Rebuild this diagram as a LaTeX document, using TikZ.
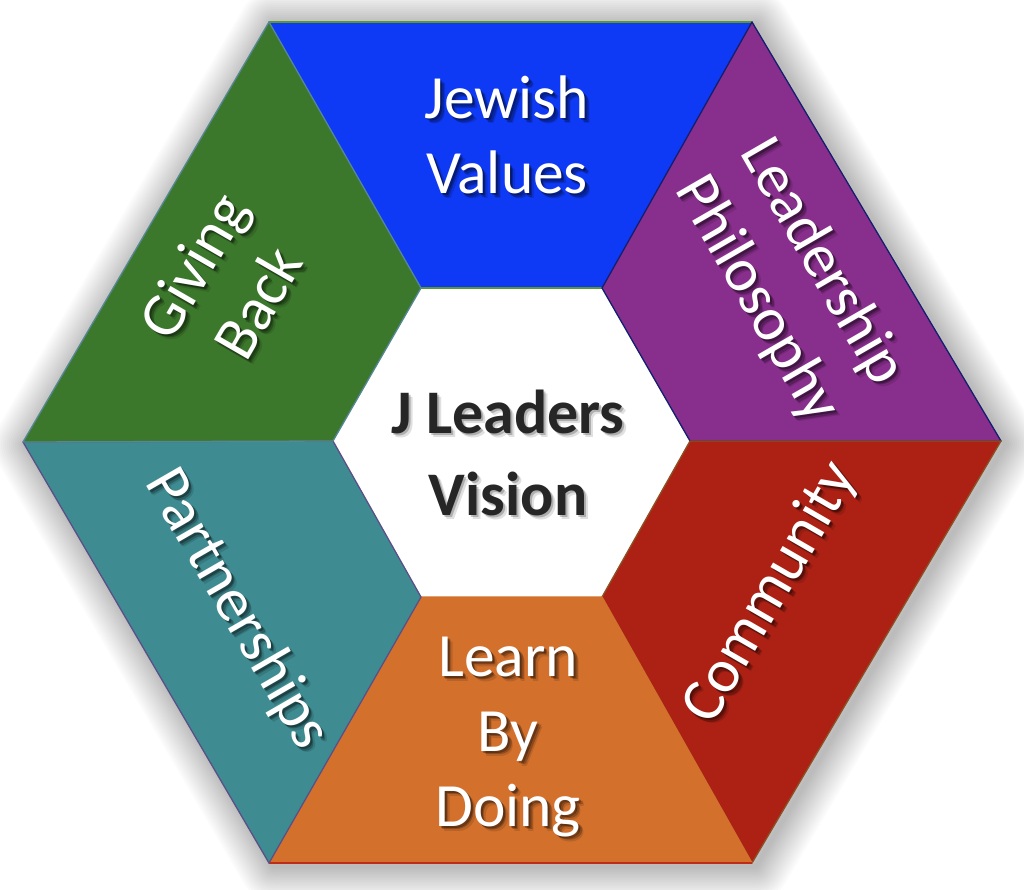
\documentclass[tikz,border=0pt]{standalone}
\usepackage{fontspec}
\setmainfont{Carlito}
\definecolor{cblue}{RGB}{14,58,245}
\definecolor{cpurple}{RGB}{136,46,140}
\definecolor{cred}{RGB}{173,33,21}
\definecolor{corange}{RGB}{211,112,44}
\definecolor{cteal}{RGB}{62,140,146}
\definecolor{cgreen}{RGB}{60,120,44}
\definecolor{ctext}{RGB}{38,38,38}
\newcommand{\lbl}[5]{%
  \foreach \dx/\dy/\op in {2/2/.32,3.5/3.5/.24,5/5/.12}{
    \node[lblstyle,rotate=#4,text=black,text opacity=\op] at (#2+\dx,#3+\dy) {#5};
  }
  \node[lblstyle,rotate=#4,text=white] (#1) at (#2,#3) {#5};
}
\tikzset{
  lblstyle/.style={align=center,font=\fontsize{61.5}{75}\selectfont,inner sep=0pt},
  segment/.style={line width=1.3pt,line join=round}
}
\begin{document}
\begin{tikzpicture}[x=1pt,y=-1pt]
\useasboundingbox (0,0) rectangle (1024,889);
\fill[white] (0,0) rectangle (1024,889);
% soft outer shadow
\foreach \w in {68,64,...,4}{
  \draw[black,opacity=.014,line width=\w pt,line join=round]
    (273,25) -- (756,25) -- (1005,444) -- (756,866) -- (273,866) -- (27,445) -- cycle;
}
\coordinate (o1) at (269,22);
\coordinate (o2) at (752,22);
\coordinate (o3) at (1001,441);
\coordinate (o4) at (752,863);
\coordinate (o5) at (269,863);
\coordinate (o6) at (23,442);
\coordinate (i1) at (421,288);
\coordinate (i2) at (602,288);
\coordinate (i3) at (690,441);
\coordinate (i4) at (602,597);
\coordinate (i5) at (421,597);
\coordinate (i6) at (333,441);
\fill[white] (i1)--(i2)--(i3)--(i4)--(i5)--(i6)--cycle;
\filldraw[segment,fill=cblue,draw=cblue] (o1)--(o2)--(i2)--(i1)--cycle;
\draw[line width=1.5pt,color={rgb,255:red,90;green,150;blue,50}] (o1)--(o2) (i1)--(i2);
\filldraw[segment,fill=cpurple,draw={rgb,255:red,20;green,30;blue,110}] (o2)--(o3)--(i3)--(i2)--cycle;
\filldraw[segment,fill=cred,draw={rgb,255:red,140;green,80;blue,35}] (o3)--(o4)--(i4)--(i3)--cycle;
\filldraw[segment,fill=corange,draw=corange] (o4)--(o5)--(i5)--(i4)--cycle;
\draw[line width=1.5pt,color={rgb,255:red,190;green,45;blue,25}] (o4)--(o5);
\filldraw[segment,fill=cteal,draw={rgb,255:red,90;green,80;blue,135}] (o5)--(o6)--(i6)--(i5)--cycle;
\filldraw[segment,fill=cgreen,draw={rgb,255:red,85;green,135;blue,150}] (o6)--(o1)--(i1)--(i6)--cycle;
\lbl{jv}{507}{135}{0}{Jewish\\Values}
\lbl{lp}{789}{281}{-60}{Leadership\\Philosophy}
\lbl{cm}{771}{593}{60}{Community}
\lbl{lbd}{508}{737}{0}{Learn\\By\\Doing}
\lbl{ps}{236.5}{609.5}{-60}{Partnerships}
\lbl{gb}{225}{284}{60}{Giving\\Back}
\foreach \dx/\dy/\op in {2/2/.22,4/4/.12}{
  \node[lblstyle,text=black,text opacity=\op,font=\fontsize{62}{82}\selectfont\bfseries] at (508+\dx,453+\dy) {J Leaders\\Vision};
}
\node[lblstyle,text=ctext,font=\fontsize{62}{82}\selectfont\bfseries] (jl) at (508,453) {J Leaders\\Vision};
\end{tikzpicture}
\end{document}
